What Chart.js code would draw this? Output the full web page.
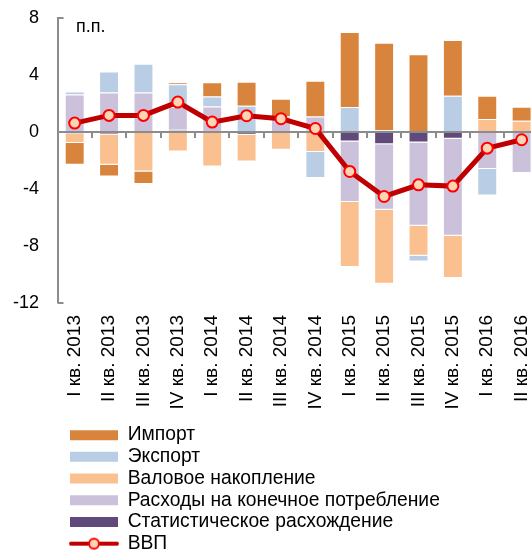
<!DOCTYPE html>
<html>
<head>
<meta charset="utf-8">
<script src="https://cdn.jsdelivr.net/npm/chart.js@4.4.1/dist/chart.umd.min.js"></script>
<style>
html, body { margin: 0; padding: 0; background: #fff; overflow: hidden; }
#wrap { width: 547px; height: 550px; }
</style>
</head>
<body>
<div id="wrap"><canvas id="c" width="547" height="550"></canvas></div>
<script>
// ---- data ----
const categories = ['I кв. 2013','II кв. 2013','III кв. 2013','IV кв. 2013','I кв. 2014','II кв. 2014','III кв. 2014','IV кв. 2014','I кв. 2015','II кв. 2015','III кв. 2015','IV кв. 2015','I кв. 2016','II кв. 2016'];
const statDiscrepancy = [-0.12, -0.17, -0.05, 0.16, 0, -0.19, 0, 0.15, -0.66, -0.85, -0.73, -0.47, 0, 0];
const finalConsumption = [2.65, 2.78, 2.78, 1.6, 1.8, 0, 1.1, 0.95, -4.26, -4.61, -5.86, -6.82, -2.6, -2.88];
const grossAccumulation = [-0.65, -2.13, -2.72, -1.36, -2.42, -1.88, -1.25, -1.41, -4.57, -5.21, -2.11, -2.98, 0.91, 0.8];
const exportsV = [0.2, 1.48, 2.02, 1.61, 0.7, 1.85, 0, -1.82, 1.76, 0.15, -0.4, 2.55, -1.86, 0];
const importsV = [-1.53, -0.82, -0.89, 0.12, 1.0, 1.69, 1.24, 2.5, 5.27, 6.13, 5.48, 3.92, 1.64, 0.98];
const gdp = [0.63, 1.17, 1.17, 2.11, 0.7, 1.15, 0.94, 0.25, -2.77, -4.53, -3.71, -3.8, -1.13, -0.54];
const yTicks = [8, 4, 0, -4, -8, -12];
const seriesNames = ['Статистическое расхождение', 'Расходы на конечное потребление', 'Валовое накопление', 'Экспорт', 'Импорт', 'ВВП'];
const unitText = 'п.п.';

// ---- styles ----
const FONT = '"Liberation Sans", Arial, sans-serif';
const AXIS_GRAY = '#8c8c8c';
const colors = ['#604A7B', '#CCC1DA', '#FAC090', '#B9CDE5', '#D9843C'];
const LEG_X = 70;        // left of legend swatches
const LEG_TOP = 425.5;   // top of first legend row
const LEG_H = 140;       // height reserved for the legend
const X_AXIS_H = 107.3;  // height reserved for the category labels

Chart.defaults.font.family = FONT;
Chart.defaults.color = '#000';

// legend icon for the GDP line
const gdpIcon = document.createElement('canvas');
gdpIcon.width = 50; gdpIcon.height = 14;
(function () {
  const g = gdpIcon.getContext('2d');
  g.strokeStyle = '#C00000'; g.lineWidth = 4; g.lineCap = 'round';
  g.beginPath(); g.moveTo(2, 7); g.lineTo(48, 7); g.stroke();
  g.beginPath(); g.arc(25, 7, 5, 0, Math.PI * 2);
  g.fillStyle = '#FCD5B5'; g.fill();
  g.strokeStyle = '#FF0000'; g.lineWidth = 2; g.stroke();
})();

const barValues = [statDiscrepancy, finalConsumption, grossAccumulation, exportsV, importsV];
const datasets = barValues.map((vals, i) => ({
  type: 'bar',
  label: seriesNames[i],
  data: vals,
  backgroundColor: colors[i],
  borderColor: 'rgba(255,255,255,0.45)',
  borderWidth: 1,
  categoryPercentage: 1,
  barPercentage: 0.58,
  stack: 'main'
}));
datasets.push({
  type: 'line',
  label: seriesNames[5],
  data: gdp,
  borderColor: '#C00000',
  borderWidth: 5,
  pointRadius: 5.5,
  pointBorderWidth: 2,
  pointBackgroundColor: '#FCD5B5',
  pointBorderColor: '#FF0000',
  stack: 'gdp',
  order: -1
});

// one legend item per row, starting at LEG_X
const legendRows = {
  id: 'legendRows',
  beforeLayout(chart) {
    const lg = chart.legend;
    if (!lg || lg._rowsPatched) return;
    lg._rowsPatched = true;
    const fitRows = lg._fitRows;
    lg._fitRows = function (...a) {
      const mw = this.maxWidth; this.maxWidth = 1;
      const h = fitRows.apply(this, a);
      this.maxWidth = mw; return h;
    };
    const fit = lg.fit;
    lg.fit = function (...a) {
      fit.apply(this, a);
      this.height = LEG_H;
    };
    const draw = lg._draw;
    lg._draw = function (...a) {
      const l = this.left, r = this.right, t = this.top;
      const pad = this.options.labels.padding;
      this.left = LEG_X - pad; this.right = this.left + 1; this.top = LEG_TOP - pad;
      draw.apply(this, a);
      this.left = l; this.right = r; this.top = t;
    };
  }
};

// zero line with category tick marks, and the end ticks of the value axis;
// drawn over the bars, under the GDP line
const axisMarks = {
  id: 'axisMarks',
  beforeDatasetDraw(chart, args) {
    if (args.index !== datasets.length - 1) return;
    const { ctx, chartArea, scales: { x, y } } = chart;
    const y0 = Math.round(y.getPixelForValue(0));
    ctx.save();
    ctx.strokeStyle = AXIS_GRAY;
    ctx.lineWidth = 2;
    ctx.beginPath();
    ctx.moveTo(chartArea.left, y0);
    ctx.lineTo(chartArea.right, y0);
    const n = categories.length;
    for (let i = 1; i <= n; i++) {
      const bx = Math.round((x.getPixelForValue(i - 1) + (i < n ? x.getPixelForValue(i) : 2 * x.getPixelForValue(i - 1) - x.getPixelForValue(i - 2))) / 2);
      ctx.moveTo(bx, y0);
      ctx.lineTo(bx, y0 + 6);
    }
    [yTicks[0], yTicks[yTicks.length - 1]].forEach(v => {
      const py = Math.round(y.getPixelForValue(v));
      ctx.moveTo(chartArea.left, py);
      ctx.lineTo(chartArea.left + 6, py);
    });
    ctx.stroke();
    ctx.restore();
  }
};

const unitLabel = {
  id: 'unitLabel',
  afterDraw(chart) {
    const { ctx, chartArea } = chart;
    ctx.save();
    ctx.font = '18px ' + FONT;
    ctx.fillStyle = '#000';
    ctx.textAlign = 'left';
    ctx.textBaseline = 'alphabetic';
    ctx.fillText(unitText, chartArea.left + 18.5, chartArea.top + 13.5);
    ctx.restore();
  }
};

new Chart(document.getElementById('c'), {
  type: 'bar',
  data: { labels: categories, datasets },
  options: {
    responsive: false,
    animation: false,
    layout: { padding: { left: 13, top: 18.3, right: 0, bottom: 0 } },
    scales: {
      x: {
        type: 'category',
        offset: true,
        stacked: true,
        grid: { display: true, drawOnChartArea: false, drawTicks: true, tickLength: 10, color: 'rgba(0,0,0,0)' },
        border: { display: false },
        ticks: { minRotation: 90, maxRotation: 90, padding: 2.3, autoSkip: false, font: { size: 19 }, color: '#000' },
        afterFit(s) { s.height = X_AXIS_H; }
      },
      y: {
        stacked: true,
        min: -12,
        max: 8,
        afterBuildTicks(scale) { scale.ticks = yTicks.map(v => ({ value: v })); },
        grid: { display: true, drawOnChartArea: false, drawTicks: true, tickLength: 14, color: 'rgba(0,0,0,0)' },
        border: { display: true, color: AXIS_GRAY, width: 2 },
        ticks: { padding: 4.5, font: { size: 18 }, color: '#000' },
        afterFit(s) { s.width = 44.5; }
      }
    },
    plugins: {
      tooltip: { enabled: false },
      legend: {
        position: 'bottom',
        align: 'start',
        labels: {
          usePointStyle: true,
          pointStyleWidth: 48,
          boxHeight: 10,
          padding: 2.4,
          font: { size: 19.3 },
          color: '#000',
          generateLabels(chart) {
            const items = Chart.defaults.plugins.legend.labels.generateLabels(chart);
            items.forEach(it => {
              if (it.datasetIndex === 5) {
                it.pointStyle = gdpIcon;
              } else {
                it.pointStyle = 'rect';
                it.lineWidth = 0;
                it.strokeStyle = 'rgba(0,0,0,0)';
              }
            });
            return items;
          },
          sort(a, b) {
            const rank = i => (i === 5 ? 99 : -i);
            return rank(a.datasetIndex) - rank(b.datasetIndex);
          }
        }
      }
    }
  },
  plugins: [legendRows, axisMarks, unitLabel]
});
</script>
</body>
</html>
